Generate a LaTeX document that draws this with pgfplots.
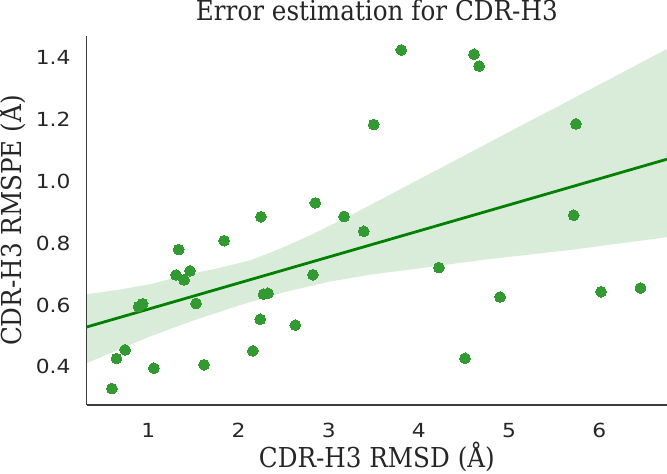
\documentclass[border=0pt]{standalone}
\usepackage{fontspec}
\setmainfont{DejaVu Serif}[FakeStretch=0.9]
\newfontfamily\ticksans{DejaVu Sans}[FakeStretch=1.12]
\usepackage{pgfplots}
\usepackage{pgfplotstable}
\pgfplotsset{compat=1.18}
\definecolor{sgreen}{RGB}{0,128,0}
\definecolor{pgreen}{RGB}{51,153,51}
\definecolor{spine}{RGB}{60,60,60}
\definecolor{txt}{RGB}{38,38,38}

\pgfplotstableread{
x y
0.597 0.330
0.649 0.427
0.744 0.455
0.893 0.595
0.938 0.604
1.063 0.396
1.308 0.697
1.338 0.779
1.397 0.681
1.463 0.710
1.530 0.605
1.619 0.407
1.841 0.808
2.160 0.452
2.241 0.554
2.249 0.885
2.278 0.635
2.327 0.638
2.630 0.535
2.826 0.698
2.852 0.930
3.171 0.886
3.389 0.838
3.500 1.183
3.804 1.424
4.222 0.721
4.511 0.428
4.611 1.410
4.667 1.372
4.900 0.626
5.716 0.890
5.741 1.185
6.019 0.643
6.456 0.655
}\pts

\pgfplotstableread{
x y
0.318 0.635
0.667 0.649
1.038 0.668
1.408 0.697
1.778 0.719
2.149 0.746
2.463 0.782
2.800 0.826
3.204 0.884
3.462 0.923
3.944 0.997
4.686 1.111
5.686 1.264
6.750 1.427
6.750 0.819
5.686 0.778
4.686 0.745
3.944 0.716
3.462 0.698
3.000 0.675
2.500 0.641
2.000 0.598
1.500 0.550
1.000 0.496
0.667 0.455
0.318 0.412
}\band

\begin{document}
\begin{tikzpicture}
\useasboundingbox (0,0) rectangle (667bp,474bp);
\begin{axis}[
  at={(86.7bp,69bp)}, anchor=south west,
  scale only axis, width=580.3bp, height=369bp,
  xmin=0.318, xmax=6.75, ymin=0.277, ymax=1.469,
  axis x line*=bottom, axis y line*=left,
  axis line style={draw=spine, line width=1.25bp, -},
  xtick={1,2,3,4,5,6}, xticklabels={1,2,3,4,5,6},
  ytick={0.4,0.6,0.8,1.0,1.2,1.4}, yticklabels={0.4,0.6,0.8,1.0,1.2,1.4},
  major tick length=0pt, tick style={draw=none},
  /pgf/number format/assume math mode=true,
  tick label style={font=\fontsize{19.5}{19.5}\selectfont\ticksans, text=txt, inner sep=0pt},
  xticklabel style={anchor=north, yshift=-18.3bp},
  yticklabel style={anchor=east, xshift=-16bp},
  title={Error estimation for CDR-H3},
  title style={at={(axis description cs:0.5,1.026)}, anchor=base, font=\fontsize{27.5}{27.5}\selectfont, text=txt, inner sep=0pt},
  xlabel={CDR-H3 RMSD (Å)},
  ylabel={CDR-H3 RMSPE (Å)},
  every axis x label/.style={at={(axis description cs:0.5,-0.1707)}, anchor=base, font=\fontsize{27.5}{27.5}\selectfont, text=txt, inner sep=0pt},
  every axis y label/.style={at={(axis description cs:-0.1115,0.5)}, rotate=90, anchor=base, font=\fontsize{27.5}{27.5}\selectfont, text=txt, inner sep=0pt},
  clip=false,
]
\addplot[only marks, color=pgreen, mark=*, mark size=5.4bp, mark options={solid, draw=pgreen, fill=pgreen, line width=0pt}] table[x=x,y=y]{\pts};
\addplot[draw=none, fill=sgreen, fill opacity=0.15] table[x=x,y=y]{\band} -- cycle;
\addplot[sgreen, line width=2.8bp] coordinates {(0.318,0.529) (6.75,1.071)};
\end{axis}
\end{tikzpicture}
\end{document}
